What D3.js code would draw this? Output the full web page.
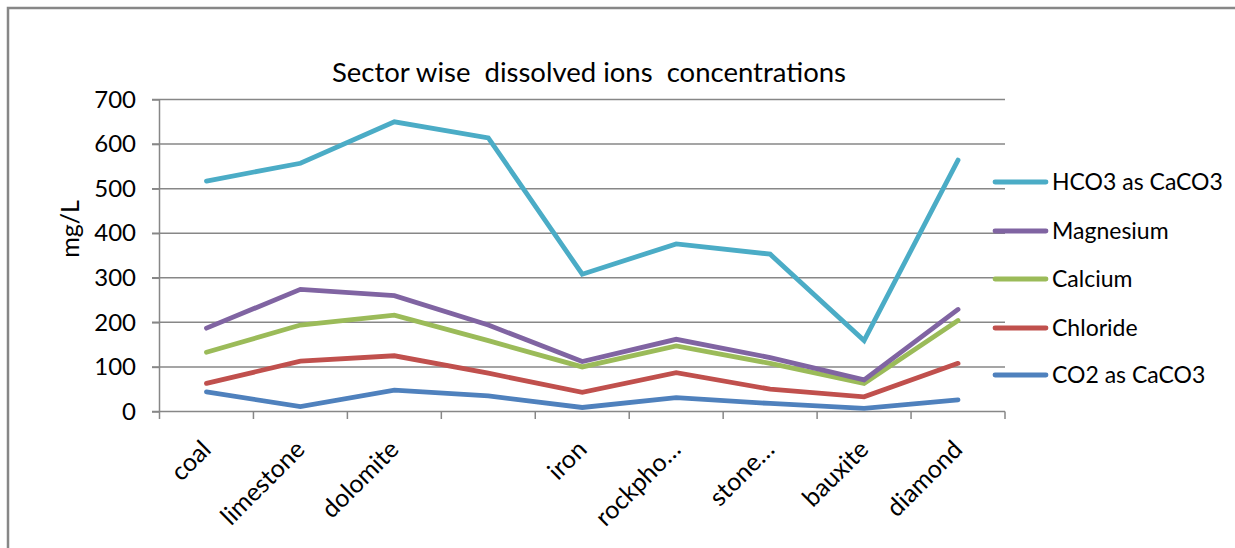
<!DOCTYPE html>
<html><head><meta charset="utf-8">
<script src="https://cdn.jsdelivr.net/npm/d3@7"></script>
<style>
html,body{margin:0;padding:0;background:#fff;}
svg{display:block;font-family:"Lato","Liberation Sans",sans-serif;}
</style></head>
<body><svg id="c" width="1235" height="548"></svg>
<script>
const categories = ["coal","limestone","dolomite","","iron","rockpho…","stone…","bauxite","diamond"];
const seriesNames = ["HCO3 as CaCO3","Magnesium","Calcium","Chloride","CO2 as CaCO3"];
const seriesColors = ["#4BACC6","#8064A2","#9BBB59","#C0504D","#4F81BD"];
const hco3 = [517,557,650,614,308,376,353,159,564];
const magnesium = [187,274,260,194,112,162,121,71,229];
const calcium = [133,194,216,159,100,147,108,63,204];
const chloride = [63,113,125,86,43,87,50,33,108];
const co2 = [44,11,48,35,9,31,18,7,26];
const yTicks = [0,100,200,300,400,500,600,700];
const title = "Sector wise  dissolved ions  concentrations";
const yLabel = "mg/L";

const seriesValues = [hco3, magnesium, calcium, chloride, co2];
const svg = d3.select("#c");
const gridCol = "#878787";

// frame
svg.append("path").attr("d","M8,548 L8,8 L1235,8").attr("fill","none").attr("stroke",gridCol).attr("stroke-width",2.5);

const x = d3.scaleBand().domain(d3.range(categories.length)).range([159.5,1005]).padding(0);
const y = d3.scaleLinear().domain([0,700]).range([411.5,99.5]);

// gridlines
svg.append("g").selectAll("line").data(yTicks.filter(d=>d>0)).join("line")
  .attr("x1",152).attr("x2",1005).attr("y1",d=>y(d)).attr("y2",d=>y(d))
  .attr("stroke",gridCol).attr("stroke-width",1.5);

// y axis
const yAxis = d3.axisLeft(y).tickValues(yTicks).tickSize(7.5).tickPadding(16).tickFormat(d3.format("d"));
const gy = svg.append("g").attr("transform","translate(159.5,0)").call(yAxis);
gy.select(".domain").attr("stroke",gridCol).attr("stroke-width",1.5).attr("d","M0,99.5V411.5");
gy.selectAll(".tick line").attr("stroke",gridCol).attr("stroke-width",1.5);
gy.selectAll(".tick text").attr("font-size",24).attr("fill","#000").attr("font-family","Lato");

// x axis
const bounds = d3.range(categories.length+1).map(i=>159.5 + i*x.bandwidth());
svg.append("line").attr("x1",152).attr("x2",1005).attr("y1",411.5).attr("y2",411.5).attr("stroke",gridCol).attr("stroke-width",1.5);
svg.append("g").selectAll("line").data(bounds).join("line")
  .attr("x1",d=>d).attr("x2",d=>d).attr("y1",411.5).attr("y2",419).attr("stroke",gridCol).attr("stroke-width",1.5);
svg.append("g").selectAll("text").data(categories).join("text")
  .attr("transform",(d,i)=>`translate(${x(i)+x.bandwidth()/2+6},${451}) rotate(-45)`)
  .attr("text-anchor","end").attr("font-size",25).attr("fill","#000").text(d=>d);

// lines
const line = d3.line().x((d,i)=>x(i)+x.bandwidth()/2).y(d=>y(d));
const order = [4,3,2,1,0];
svg.append("g").selectAll("path").data(order).join("path")
  .attr("d",k=>line(seriesValues[k])).attr("fill","none")
  .attr("stroke",k=>seriesColors[k]).attr("stroke-width",4.8)
  .attr("stroke-linejoin","miter").attr("stroke-linecap","round");

// title
svg.append("text").attr("x",589).attr("y",82).attr("text-anchor","middle")
  .attr("font-size",27.5).attr("fill","#000").style("white-space","pre").text(title);

// y label
svg.append("text").attr("transform","translate(79,229) rotate(-90)").attr("text-anchor","middle")
  .attr("font-size",25).attr("fill","#000").text(yLabel);

// legend
const legY = [182,231,279,328,375];
const lg = svg.append("g").selectAll("g").data(seriesNames).join("g")
  .attr("transform",(d,i)=>`translate(0,${legY[i]})`);
lg.append("line").attr("x1",995).attr("x2",1046).attr("y1",0).attr("y2",0)
  .attr("stroke",(d,i)=>seriesColors[i]).attr("stroke-width",4.8).attr("stroke-linecap","round");
lg.append("text").attr("x",1052).attr("y",8).attr("font-size",23).attr("fill","#000").text(d=>d);
</script></body></html>
